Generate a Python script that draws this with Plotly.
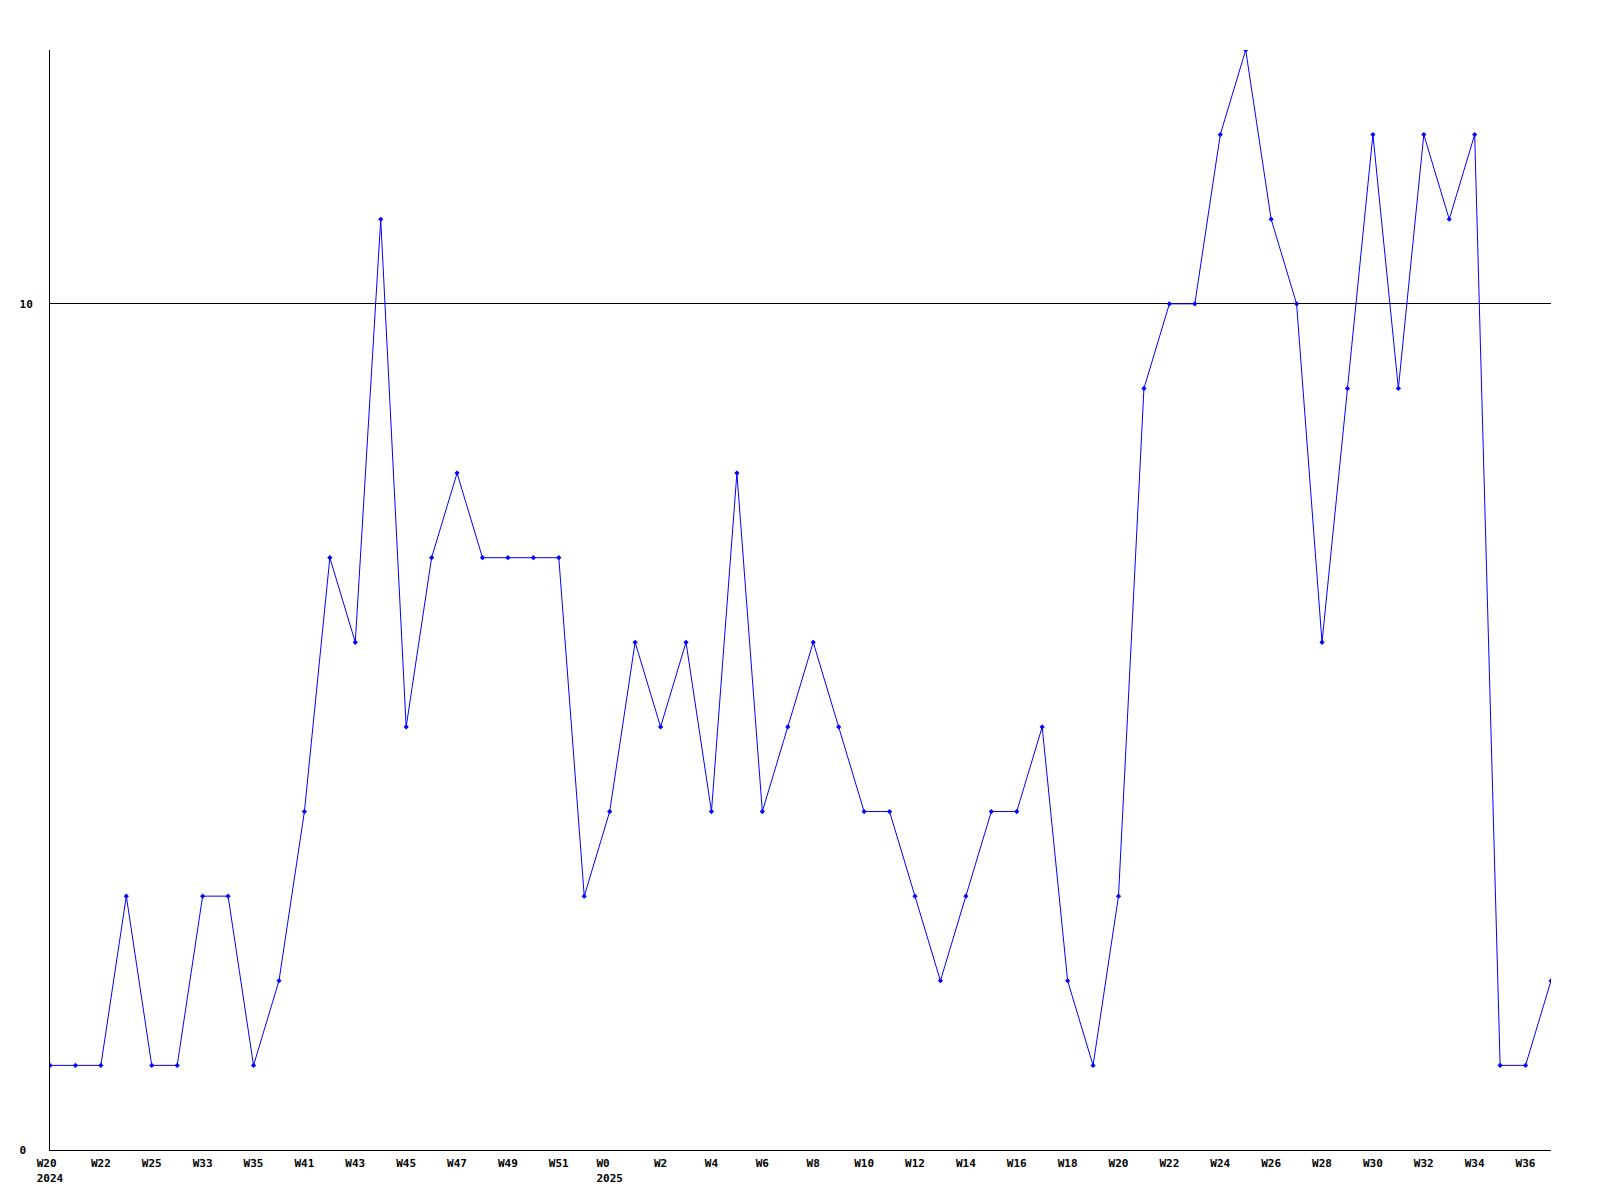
import plotly.graph_objects as go

weeks = ["W20", "W21", "W22", "W23", "W25", "W26", "W33", "W34", "W35", "W36",
         "W41", "W42", "W43", "W44", "W45", "W46", "W47", "W48", "W49", "W50",
         "W51", "W52", "W0", "W1", "W2", "W3", "W4", "W5", "W6", "W7",
         "W8", "W9", "W10", "W11", "W12", "W13", "W14", "W15", "W16", "W17",
         "W18", "W19", "W20", "W21", "W22", "W23", "W24", "W25", "W26", "W27",
         "W28", "W29", "W30", "W31", "W32", "W33", "W34", "W35", "W36", "W37"]
years = {0: "2024", 22: "2025"}
values = [1, 1, 1, 3, 1, 1, 3, 3, 1, 2,
          4, 7, 6, 11, 5, 7, 8, 7, 7, 7,
          7, 3, 4, 6, 5, 6, 4, 8, 4, 5,
          6, 5, 4, 4, 3, 2, 3, 4, 4, 5,
          2, 1, 3, 9, 10, 10, 12, 13, 11, 10,
          6, 9, 12, 9, 12, 11, 12, 1, 1, 2]

x = list(range(len(values)))
tickvals = x[::2]


def label(i):
    w = weeks[i]
    if i in years:
        y = years[i]
        # left-align both lines (monospace) by padding the shorter one
        return w + "\u00a0" * (len(y) - len(w)) + "<br>" + y
    return w


ticktext = [label(i) for i in tickvals]

fig = go.Figure(go.Scatter(
    x=x, y=values, mode="lines+markers",
    line=dict(color="#0000ff", width=1),
    marker=dict(symbol="diamond", size=4, color="#0000ff"),
    cliponaxis=True,
))

tfont = dict(family="DejaVu Sans Mono", size=11, color="black", weight="bold")
fig.update_layout(
    width=1600, height=1200,
    margin=dict(l=42, r=57, t=42, b=58),
    plot_bgcolor="white", paper_bgcolor="white",
    showlegend=False,
    font=dict(family="DejaVu Sans Mono", size=11, color="black"),
)
fig.update_xaxes(
    range=[0, 59], tickvals=tickvals, ticktext=ticktext,
    showgrid=False, zeroline=False, showline=True, linecolor="black", linewidth=1,
    ticks="", tickfont=tfont,
    ticklabelstandoff=3,
)
fig.update_yaxes(
    range=[0, 13], tickvals=[0, 10], ticktext=["0\u00a0", "10"],
    showgrid=True, gridcolor="black", gridwidth=1,
    zeroline=False, showline=True, linecolor="black", linewidth=1,
    ticks="", tickfont=tfont,
    ticklabelstandoff=14,
)

fig.write_html("out.html")
